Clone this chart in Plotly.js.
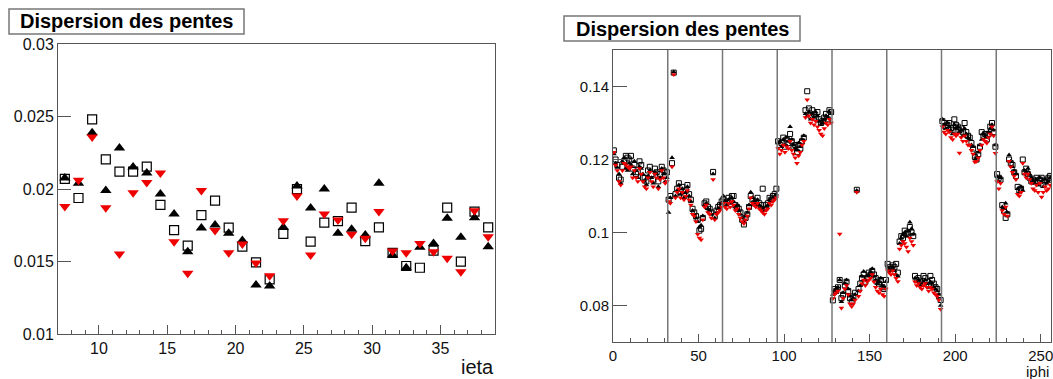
<!DOCTYPE html>
<html>
<head>
<meta charset="utf-8">
<script src="https://cdn.plot.ly/plotly-3.0.1.min.js"></script>
<style>
html,body{margin:0;padding:0;background:#fff;}
#chart{width:1053px;height:379px;}
</style>
</head>
<body>
<div id="chart"></div>
<script>
// ---------- Left panel: dispersion vs ieta ----------
const ieta = [7.5,8.5,9.5,10.5,11.5,12.5,13.5,14.5,15.5,16.5,17.5,18.5,19.5,20.5,21.5,22.5,
              23.5,24.5,25.5,26.5,27.5,28.5,29.5,30.5,31.5,32.5,33.5,34.5,35.5,36.5,37.5,38.5];
const etaUp = [.02076,.0204,.02388,.0199,.02283,.02152,.0211,.01966,.01828,.01568,.01731,.01752,.01694,.01644,.01338,.01331,
               .01736,.02021,.01869,.0200,.01694,.01722,.01683,.02039,.01545,.01457,.01598,.01625,.01798,.01667,.01802,.01602];
const etaSq = [.0207,.01938,.0248,.02205,.0212,.0212,.02154,.0189,.01717,.01609,.0182,.0192,.01733,.01602,.01494,.01377,
               .0169,.0200,.01637,.01768,.01779,.01871,.01641,.01736,.0156,.01469,.01457,.01575,.01871,.01499,.01844,.01736];
const etaDown = [.0188,.0206,.02358,.01871,.01552,.01975,.02044,.0211,.01637,.01419,.0199,.01713,.0156,.01621,.0149,.01402,
                 .01781,.01952,.01545,.01828,.01786,.01688,.0166,.01844,.01572,.0156,.01625,.01568,.01522,.0143,.0185,.01671];
const etaYTicks = [0.01,0.015,0.02,0.025,0.03];
const etaYLabels = ["0.01","0.015","0.02","0.025","0.03"];

// ---------- Right panel: dispersion vs iphi ----------
const iphiCount = 256;
const iphi = Array.from({length: iphiCount}, (_, i) => i + 0.5); // bin centres
const phiUp = [
 .1215,.1190,.1178,.1160,.1135,.1195,.1205,.1175,.1170,.1190,.1185,.1160,.1195,.1170,.1150,.1180,.1175,.1160,.1140,.1130,.1155,.1170,.1150,.1135,.1165,.1160,.1125,.1150,.1175,.1160,.1140,.1150,
 .1055,.1095,.1205,.1440,.1100,.1115,.1130,.1105,.1120,.1095,.1110,.1125,.1100,.1085,.1060,.1050,.1040,.1030,.1015,.1020,.1045,.1075,.1080,.1065,.1060,.1050,.1160,.1040,.1055,.1065,.1070,.1080,
 .1100,.1085,.1075,.1090,.1080,.1095,.1085,.1070,.1075,.1060,.1050,.1040,.1030,.1045,.1055,.1075,.1110,.1095,.1085,.1080,.1090,.1075,.1070,.1065,.1060,.1070,.1075,.1090,.1085,.1095,.1100,.1105,
 .1245,.1250,.1235,.1255,.1240,.1260,.1250,.1290,.1255,.1240,.1230,.1225,.1245,.1235,.1255,.1265,.1325,.1320,.1330,.1310,.1325,.1315,.1330,.1320,.1305,.1295,.1300,.1310,.1320,.1315,.1330,.1325,
 .0830,.0840,.0845,.0850,.0870,.0810,.0835,.0860,.0870,.0845,.0825,.0815,.0820,.0830,.1115,.0840,.0855,.0880,.0893,.0870,.0880,.0885,.0890,.0901,.0880,.0870,.0860,.0865,.0875,.0855,.0850,.0865,
 .0905,.0900,.0895,.0905,.0895,.0885,.0880,.0970,.0985,.0995,.1000,.0990,.1005,.1028,.1010,.0995,.0875,.0865,.0870,.0860,.0855,.0865,.0870,.0860,.0850,.0865,.0860,.0850,.0845,.0840,.0830,.0800,
 .1310,.1295,.1285,.1300,.1290,.1280,.1270,.1295,.1285,.1290,.1275,.1280,.1265,.1285,.1270,.1260,.1255,.1240,.1235,.1215,.1205,.1220,.1240,.1255,.1270,.1265,.1260,.1275,.1285,.1295,.1280,.1240,
 .1153,.1140,.1150,.1070,.1065,.1080,.1055,.1212,.1195,.1180,.1170,.1160,.1120,.1110,.1125,.1115,.1170,.1165,.1175,.1160,.1150,.1140,.1135,.1145,.1130,.1150,.1140,.1125,.1145,.1135,.1140,.1150
];
const phiSq = [
 .1225,.1200,.1185,.1150,.1145,.1180,.1195,.1210,.1205,.1200,.1210,.1175,.1185,.1160,.1165,.1195,.1185,.1150,.1150,.1140,.1170,.1180,.1160,.1145,.1175,.1165,.1140,.1160,.1180,.1170,.1155,.1165,
 .1090,.1100,.1190,.1438,.1105,.1120,.1135,.1110,.1125,.1100,.1115,.1130,.1105,.1090,.1065,.1055,.1045,.1035,.1005,.1010,.1040,.1080,.1085,.1070,.1065,.1055,.1166,.1045,.1060,.1070,.1075,.1085,
 .1090,.1080,.1085,.1095,.1085,.1100,.1100,.1075,.1070,.1065,.1055,.1035,.1022,.1040,.1050,.1070,.1100,.1090,.1080,.1085,.1095,.1080,.1075,.1120,.1065,.1075,.1080,.1095,.1090,.1100,.1105,.1120,
 .1250,.1240,.1245,.1260,.1235,.1255,.1245,.1270,.1250,.1235,.1240,.1220,.1240,.1230,.1250,.1260,.1335,.1387,.1340,.1320,.1335,.1325,.1315,.1330,.1310,.1300,.1305,.1315,.1325,.1310,.1335,.1330,
 .0814,.0845,.0840,.0850,.0870,.0820,.0830,.0855,.0865,.0840,.0820,.0810,.0825,.0835,.1117,.0845,.0860,.0875,.0885,.0865,.0875,.0890,.0885,.0895,.0885,.0875,.0865,.0860,.0870,.0850,.0845,.0870,
 .0914,.0905,.0900,.0910,.0905,.0914,.0890,.0975,.0990,.0985,.1005,.0995,.1000,.1015,.1000,.0990,.0881,.0870,.0875,.0865,.0860,.0881,.0875,.0865,.0855,.0881,.0870,.0860,.0850,.0845,.0825,.0815,
 .1305,.1300,.1290,.1295,.1300,.1285,.1280,.1310,.1295,.1290,.1280,.1285,.1275,.1300,.1275,.1265,.1260,.1245,.1230,.1207,.1200,.1215,.1235,.1275,.1265,.1270,.1255,.1270,.1290,.1300,.1275,.1235,
 .1160,.1150,.1145,.1075,.1060,.1040,.1050,.1200,.1190,.1185,.1165,.1155,.1125,.1115,.1120,.1200,.1165,.1175,.1160,.1150,.1140,.1145,.1140,.1150,.1135,.1145,.1150,.1130,.1140,.1145,.1150,.1155
];
const phiDown = [
 .1220,.1185,.1170,.1140,.1130,.1170,.1190,.1185,.1180,.1175,.1180,.1150,.1170,.1150,.1140,.1175,.1160,.1140,.1125,.1120,.1150,.1165,.1140,.1125,.1160,.1150,.1120,.1145,.1170,.1150,.1135,.1140,
 .1085,.1080,.1180,.1433,.1095,.1110,.1120,.1095,.1110,.1090,.1100,.1115,.1090,.1075,.1050,.1045,.1030,.0995,.0985,.0980,.1035,.1070,.1075,.1055,.1050,.1040,.1145,.1035,.1050,.1055,.1060,.1070,
 .1080,.1070,.1065,.1080,.1070,.1085,.1075,.1060,.1065,.1050,.1040,.1030,.1025,.1035,.1045,.1065,.1095,.1080,.1075,.1070,.1080,.1065,.1060,.1055,.1050,.1060,.1065,.1080,.1075,.1085,.1090,.1095,
 .1230,.1215,.1225,.1240,.1220,.1235,.1230,.1250,.1225,.1215,.1205,.1190,.1210,.1220,.1240,.1250,.1315,.1364,.1320,.1300,.1310,.1295,.1305,.1290,.1280,.1270,.1265,.1285,.1300,.1295,.1310,.1300,
 .0819,.0830,.0835,.0840,.0996,.0793,.0820,.0845,.0855,.0830,.0805,.0797,.0805,.0815,.1110,.0825,.0840,.0860,.0870,.0855,.0865,.0870,.0875,.0885,.0865,.0850,.0840,.0835,.0845,.0830,.0825,.0845,
 .0895,.0890,.0885,.0895,.0885,.0875,.0866,.0955,.0965,.0975,.0970,.0960,.0948,.0985,.0975,.0965,.0865,.0855,.0860,.0850,.0845,.0855,.0860,.0850,.0840,.0850,.0845,.0835,.0830,.0825,.0815,.0790,
 .1290,.1275,.1270,.1280,.1275,.1260,.1255,.1270,.1265,.1270,.1218,.1260,.1250,.1265,.1250,.1240,.1240,.1225,.1215,.1193,.1195,.1205,.1225,.1240,.1255,.1250,.1245,.1260,.1270,.1290,.1265,.1217,
 .1140,.1120,.1135,.1060,.1050,.1070,.1045,.1195,.1180,.1165,.1155,.1145,.1105,.1100,.1110,.1190,.1160,.1150,.1160,.1145,.1135,.1120,.1115,.1130,.1110,.1135,.1097,.1110,.1125,.1115,.1120,.1130
];
const phiBoundaries = [32,64,96,128,160,192,224];
const phiYTicks = [0.08,0.1,0.12,0.14];
const phiYLabels = ["0.08","0.1","0.12","0.14"];

// ---------- styling ----------
const W = 1053, H = 379;
const FONT = "Liberation Sans, Arial, Helvetica, sans-serif";
const RED = "#ee0000";
const FRAME = "#555555";
const px = v => v / W;          // pixel -> paper x
const py = v => 1 - v / H;      // pixel -> paper y

function trace(x, y, xa, ya, symbol, color, size, lw) {
  return {
    type: "scatter", mode: "markers", x: x, y: y, xaxis: xa, yaxis: ya,
    marker: {symbol: symbol, color: color, size: size,
             line: {color: color, width: lw}},
    hoverinfo: "x+y"
  };
}

const data = [
  trace(ieta, etaUp, "x", "y", "triangle-up", "#000000", 10, 0),
  trace(ieta, etaSq, "x", "y", "square-open", "#000000", 9, 1.2),
  trace(ieta, etaDown, "x", "y", "triangle-down", RED, 10, 0),
  trace(iphi, phiUp, "x2", "y2", "triangle-up", "#000000", 5, 0),
  trace(iphi, phiSq, "x2", "y2", "square-open", "#000000", 5, 1),
  trace(iphi, phiDown, "x2", "y2", "triangle-down", RED, 5, 0)
];

const axisCommon = {
  showgrid: false, zeroline: false, showline: true, mirror: true,
  linecolor: FRAME, linewidth: 1, ticks: "inside", tickcolor: FRAME,
  tickfont: {family: FONT, color: "#111", size: 16}
};

const shapes = phiBoundaries.map(b => ({
  type: "line", xref: "x2", yref: "y2 domain", x0: b, x1: b, y0: 0, y1: 1,
  line: {color: "#777777", width: 1.5}
}));
// title boxes
shapes.push({type: "rect", xref: "paper", yref: "paper",
  x0: px(9), x1: px(244), y0: py(34), y1: py(9),
  line: {color: "#777777", width: 1.5}, fillcolor: "#ffffff"});
shapes.push({type: "rect", xref: "paper", yref: "paper",
  x0: px(564), x1: px(800), y0: py(41), y1: py(16),
  line: {color: "#777777", width: 1.5}, fillcolor: "#ffffff"});

const layout = {
  width: W, height: H,
  margin: {l: 0, r: 0, t: 0, b: 0},
  paper_bgcolor: "#ffffff", plot_bgcolor: "#ffffff",
  showlegend: false,
  font: {family: FONT, color: "#111"},
  xaxis: Object.assign({}, axisCommon, {
    domain: [px(58), px(495)], range: [7, 39], anchor: "y",
    tickmode: "linear", tick0: 0, dtick: 5, ticklen: 9,
    minor: {ticks: "inside", dtick: 1, ticklen: 4, tickcolor: FRAME, showgrid: false}
  }),
  yaxis: Object.assign({}, axisCommon, {
    domain: [py(334), py(44)], range: [0.01, 0.03], anchor: "x",
    tickmode: "array", tickvals: etaYTicks, ticktext: etaYLabels, ticklen: 13
  }),
  xaxis2: Object.assign({}, axisCommon, {
    domain: [px(613), px(1051)], range: [0, 256], anchor: "y2",
    tickmode: "linear", tick0: 0, dtick: 50, ticklen: 8,
    ticklabeloverflow: "allow",
    tickfont: {family: FONT, color: "#111", size: 15},
    minor: {ticks: "inside", dtick: 10, ticklen: 4, tickcolor: FRAME, showgrid: false}
  }),
  yaxis2: Object.assign({}, axisCommon, {
    domain: [py(342), py(50)], range: [0.07, 0.15], anchor: "x2",
    tickmode: "array", tickvals: phiYTicks, ticktext: phiYLabels, ticklen: 14,
    tickfont: {family: FONT, color: "#111", size: 15}
  }),
  shapes: shapes,
  annotations: [
    {text: "<b>Dispersion des pentes</b>", xref: "paper", yref: "paper",
     x: px(126.5), y: py(21.5), xanchor: "center", yanchor: "middle",
     showarrow: false, font: {family: FONT, size: 20, color: "#000"}},
    {text: "<b>Dispersion des pentes</b>", xref: "paper", yref: "paper",
     x: px(682), y: py(28.5), xanchor: "center", yanchor: "middle",
     showarrow: false, font: {family: FONT, size: 20, color: "#000"}},
    {text: "ieta", xref: "paper", yref: "paper",
     x: px(496), y: py(367), xanchor: "right", yanchor: "middle",
     showarrow: false, font: {family: FONT, size: 20, color: "#111"}},
    {text: "iphi", xref: "paper", yref: "paper",
     x: px(1051), y: py(371), xanchor: "right", yanchor: "middle",
     showarrow: false, font: {family: FONT, size: 15, color: "#111"}}
  ]
};

Plotly.newPlot("chart", data, layout, {displayModeBar: false, staticPlot: true});
</script>
</body>
</html>
